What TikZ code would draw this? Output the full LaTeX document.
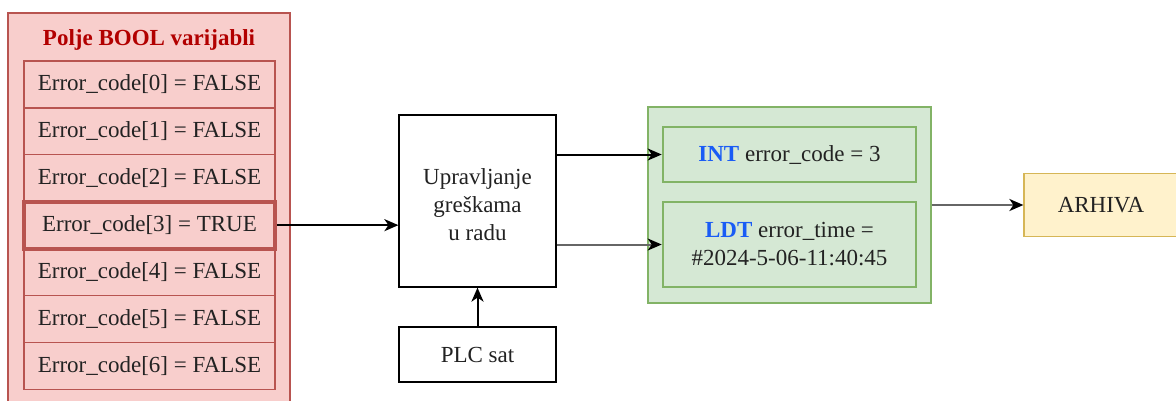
\documentclass[tikz,border=0pt]{standalone}
\usepackage{fontspec}
\setmainfont{Liberation Serif}
\usetikzlibrary{arrows.meta}
\definecolor{redfill}{HTML}{F8CECC}
\definecolor{redline}{HTML}{B85450}
\definecolor{titlered}{HTML}{B20000}
\definecolor{greenfill}{HTML}{D5E8D4}
\definecolor{greenline}{HTML}{82B366}
\definecolor{yelfill}{HTML}{FFF2CC}
\definecolor{yelline}{HTML}{D6B656}
\definecolor{kwblue}{HTML}{1A5CF5}
\definecolor{txt}{HTML}{222222}
\begin{document}
\begin{tikzpicture}[x=1pt,y=-1pt,
  font=\fontsize{23}{28}\selectfont, text=txt,
  box/.style={draw, rectangle, inner sep=0pt, align=center, line width=1.2pt},
  cell/.style={box, draw=redline, fill=redfill, minimum width=251pt, minimum height=46.9pt},
  hot/.style={line width=4pt, draw=redline},
  plain/.style={box, draw=black, fill=white},
  grn/.style={box, draw=greenline, fill=greenfill},
  grnin/.style={grn, line width=2.6pt},
  yel/.style={box, draw=yelline, fill=yelfill},
  conn/.style={draw=black, line width=2pt, -{Stealth[length=14pt,width=12pt,inset=4pt]}},
  connG/.style={draw=black!60, line width=2pt, -{Stealth[length=14pt,width=12pt,inset=4pt,color=black]}}
]
\useasboundingbox (0,0) rectangle (1176,400);
\clip (0,0) rectangle (1176,400);

% left panel
\node[box, draw=redline, fill=redfill, minimum width=282pt, minimum height=400pt] (panel) at (149,213) {};
\node[font=\fontsize{23}{28}\selectfont\bfseries, text=titlered] (title) at (149,40) {Polje BOOL varijabli};
\node[cell] (c0) at (149.5,84.45) {Error\_code[0] = FALSE};
\node[cell] (c1) at (149.5,131.35) {Error\_code[1] = FALSE};
\node[cell] (c2) at (149.5,178.25) {Error\_code[2] = FALSE};
\node[cell] (c4) at (149.5,272.05) {Error\_code[4] = FALSE};
\node[cell] (c5) at (149.5,318.95) {Error\_code[5] = FALSE};
\node[cell] (c6) at (149.5,365.85) {Error\_code[6] = FALSE};
\node[cell, hot] (c3) at (149.5,225.15) {Error\_code[3] = TRUE};

% middle
\node[plain, minimum width=157pt, minimum height=172pt] (mid) at (477.5,201) {};
\node[align=center] (midtxt) at (477.5,204.5) {Upravljanje\\greškama\\u radu};
\node[plain, minimum width=157pt, minimum height=55pt] (plc) at (477.5,354.5) {PLC sat};

% green group
\node[grn, minimum width=283pt, minimum height=196pt] (grp) at (789.5,205) {};
\node[grnin, minimum width=253pt, minimum height=55pt] (in1) at (789.5,154.5)
  {{\bfseries\color{kwblue}INT} error\_code = 3};
\node[grnin, minimum width=253pt, minimum height=85pt] (in2) at (789.5,244.5)
  {{\bfseries\color{kwblue}LDT} error\_time =\\\#2024-5-06-11:40:45};

% archive
\node[yel, minimum width=154pt, minimum height=63pt] (arh) at (1101,205) {ARHIVA};

% connectors
\draw[conn] (c3.east) -- (c3.east -| mid.west);
\draw[conn] (plc.north) -- (mid.south);
\draw[conn] (mid.east |- in1.west) -- (in1.west);
\draw[connG] (mid.east |- in2.west) -- (in2.west);
\draw[connG] (grp.east) -- (arh.west);
\end{tikzpicture}
\end{document}
